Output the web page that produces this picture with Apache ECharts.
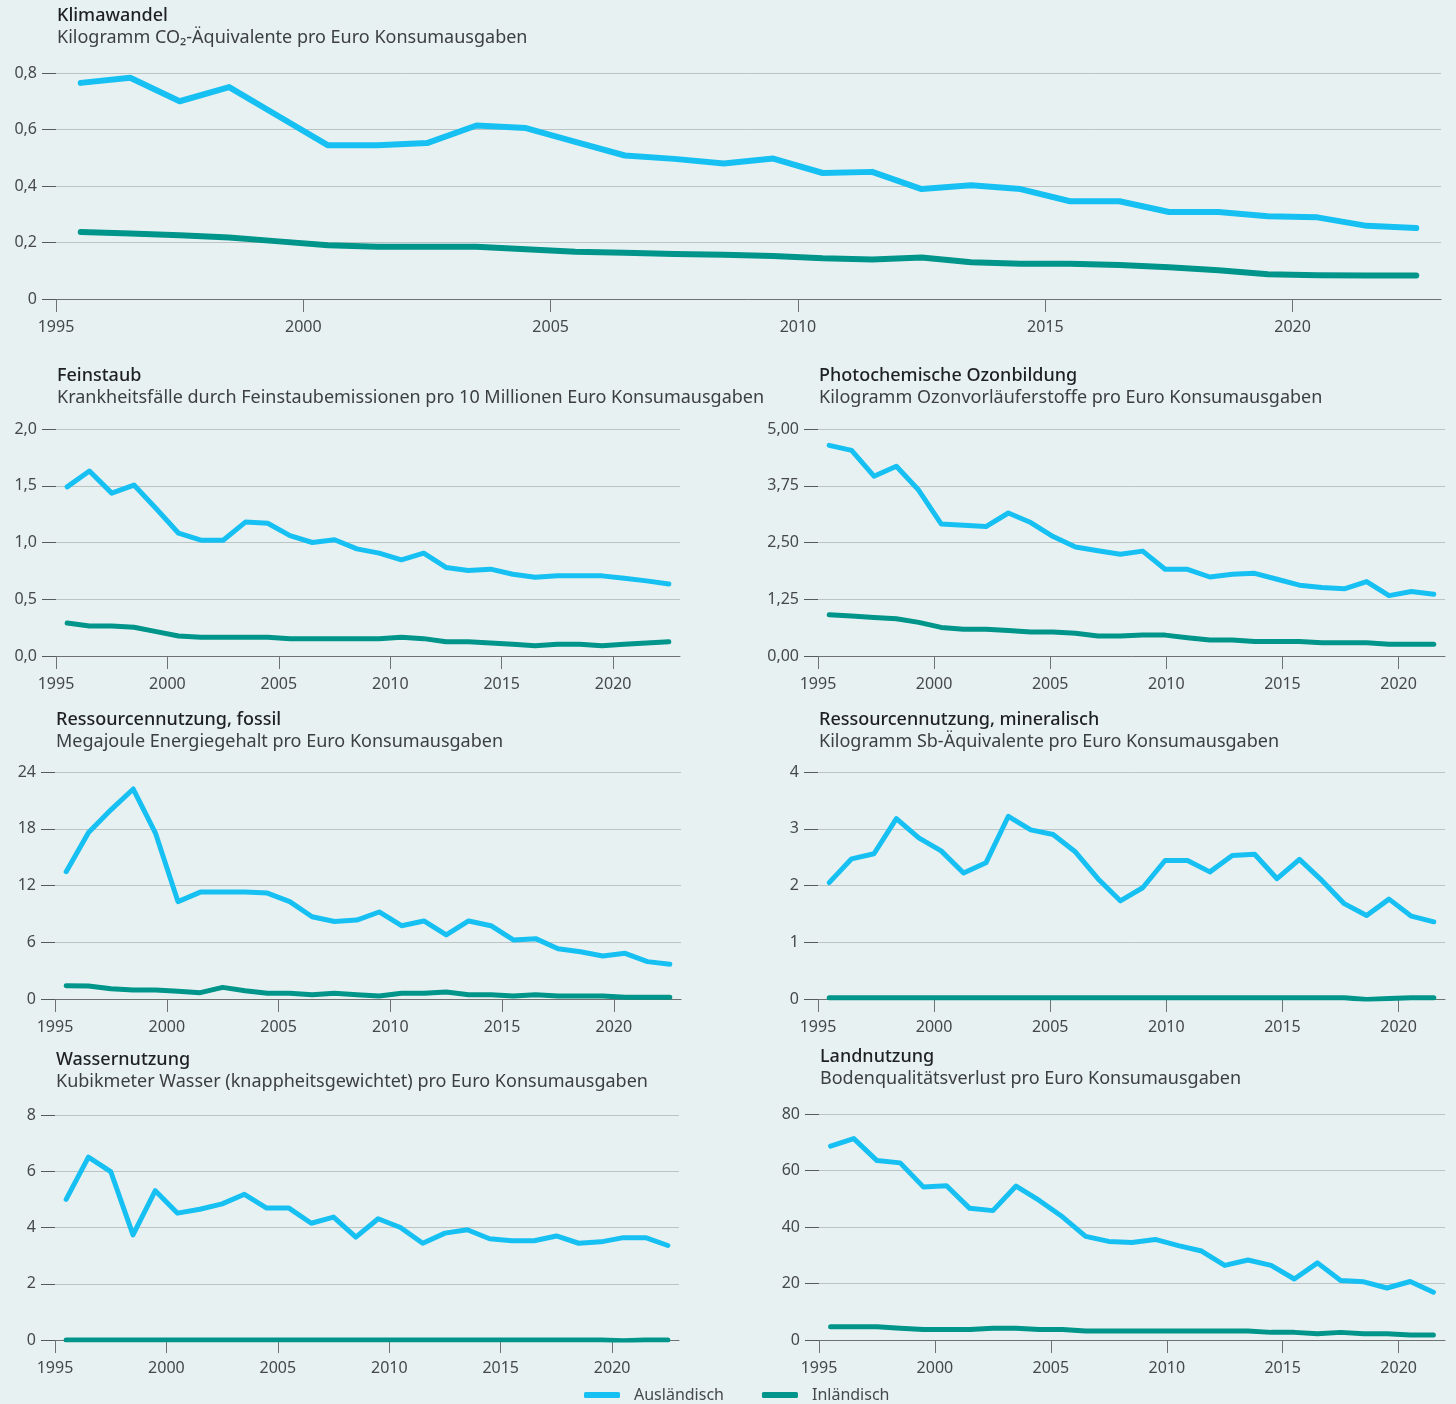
<!DOCTYPE html>
<html>
<head>
<meta charset="utf-8">
<script src="https://cdn.jsdelivr.net/npm/echarts@6/dist/echarts.min.js"></script>
<style>
  html, body { margin: 0; padding: 0; background: #e8f1f1; }
  #chart { width: 1456px; height: 1404px; }
</style>
</head>
<body>
<div id="chart"></div>
<script>
// Jahre (Datenpunkte)
var years = [1995, 1996, 1997, 1998, 1999, 2000, 2001, 2002, 2003, 2004, 2005, 2006, 2007, 2008,
  2009, 2010, 2011, 2012, 2013, 2014, 2015, 2016, 2017, 2018, 2019, 2020, 2021, 2022]
var landYears = [1995, 1996, 1997, 1998, 1999, 2000, 2001, 2002, 2003, 2004, 2005, 2006, 2007, 2008,
  2009, 2010, 2011, 2012, 2013, 2014, 2015, 2016, 2017, 2018, 2019, 2020, 2021]
var xTickValues = [1995, 2000, 2005, 2010, 2015, 2020]

// Klimawandel
var klimaAusl = [0.765, 0.783, 0.70, 0.75, 0.647, 0.544, 0.544, 0.552, 0.614, 0.605, 0.556, 0.508, 0.496, 0.48,
  0.497, 0.446, 0.45, 0.389, 0.403, 0.389, 0.346, 0.346, 0.308, 0.308, 0.293, 0.289, 0.259, 0.251]
var klimaInl = [0.237, 0.232, 0.226, 0.218, 0.204, 0.19, 0.185, 0.185, 0.185, 0.176, 0.167, 0.164, 0.159, 0.157,
  0.152, 0.144, 0.14, 0.147, 0.13, 0.125, 0.125, 0.12, 0.112, 0.102, 0.088, 0.084, 0.083, 0.083]
var klimaYLabels = ['0', '0,2', '0,4', '0,6', '0,8']

// Feinstaub
var feinAusl = [1.49, 1.63, 1.435, 1.506, 1.297, 1.082, 1.02, 1.02, 1.18, 1.17, 1.06, 1.0, 1.024, 0.944,
  0.906, 0.847, 0.906, 0.78, 0.753, 0.765, 0.72, 0.694, 0.706, 0.706, 0.706, 0.685, 0.662, 0.635]
var feinInl = [0.29, 0.265, 0.265, 0.253, 0.215, 0.176, 0.165, 0.165, 0.165, 0.165, 0.153, 0.153, 0.153, 0.153,
  0.153, 0.165, 0.153, 0.126, 0.126, 0.115, 0.103, 0.091, 0.103, 0.103, 0.091, 0.103, 0.115, 0.126]
var feinYLabels = ['0,0', '0,5', '1,0', '1,5', '2,0']

// Photochemische Ozonbildung
var ozonAusl = [4.64, 4.53, 3.96, 4.18, 3.65, 2.91, 2.88, 2.85, 3.15, 2.94, 2.63, 2.40, 2.32, 2.24,
  2.31, 1.91, 1.91, 1.74, 1.80, 1.82, 1.69, 1.56, 1.51, 1.48, 1.64, 1.33, 1.42, 1.36]
var ozonInl = [0.91, 0.88, 0.85, 0.82, 0.74, 0.63, 0.59, 0.59, 0.56, 0.53, 0.53, 0.50, 0.44, 0.44,
  0.46, 0.46, 0.40, 0.35, 0.35, 0.32, 0.32, 0.32, 0.29, 0.29, 0.29, 0.26, 0.26, 0.26]
var ozonYLabels = ['0,00', '1,25', '2,50', '3,75', '5,00']

// Ressourcennutzung, fossil
var fossilAusl = [13.46, 17.6, 20.0, 22.2, 17.5, 10.3, 11.3, 11.3, 11.3, 11.2, 10.3, 8.7, 8.2, 8.35,
  9.2, 7.75, 8.25, 6.77, 8.25, 7.75, 6.24, 6.38, 5.32, 5.0, 4.55, 4.83, 3.95, 3.67]
var fossilInl = [1.41, 1.37, 1.09, 0.95, 0.95, 0.81, 0.67, 1.23, 0.88, 0.6, 0.6, 0.46, 0.6, 0.46,
  0.32, 0.6, 0.6, 0.74, 0.46, 0.46, 0.32, 0.46, 0.32, 0.32, 0.32, 0.18, 0.18, 0.18]
var fossilYLabels = ['0', '6', '12', '18', '24']

// Ressourcennutzung, mineralisch
var mineralAusl = [2.05, 2.47, 2.56, 3.18, 2.84, 2.61, 2.22, 2.40, 3.22, 2.98, 2.90, 2.59, 2.12, 1.73,
  1.96, 2.44, 2.44, 2.24, 2.53, 2.55, 2.12, 2.46, 2.09, 1.68, 1.47, 1.76, 1.46, 1.36]
var mineralInl = [0.02, 0.02, 0.02, 0.02, 0.02, 0.02, 0.02, 0.02, 0.02, 0.02, 0.02, 0.02, 0.02, 0.02,
  0.02, 0.02, 0.02, 0.02, 0.02, 0.02, 0.02, 0.02, 0.02, 0.02, -0.01, 0.01, 0.02, 0.02]
var mineralYLabels = ['0', '1', '2', '3', '4']

// Wassernutzung
var wasserAusl = [5.0, 6.5, 5.99, 3.74, 5.31, 4.51, 4.65, 4.84, 5.18, 4.69, 4.69, 4.15, 4.37, 3.66,
  4.31, 4.0, 3.44, 3.8, 3.92, 3.6, 3.53, 3.53, 3.7, 3.44, 3.49, 3.64, 3.64, 3.36]
var wasserInl = [0, 0, 0, 0, 0, 0, 0, 0, 0, 0, 0, 0, 0, 0,
  0, 0, 0, 0, 0, 0, 0, 0, 0, 0, 0, -0.03, 0, 0]
var wasserYLabels = ['0', '2', '4', '6', '8']

// Landnutzung
var landAusl = [68.6, 71.3, 63.5, 62.7, 54.2, 54.6, 46.6, 45.8, 54.5, 49.4, 43.6, 36.7, 34.9, 34.5,
  35.6, 33.4, 31.5, 26.4, 28.3, 26.4, 21.6, 27.3, 21.1, 20.6, 18.4, 20.7, 16.9]
var landInl = [4.7, 4.7, 4.7, 4.2, 3.7, 3.7, 3.7, 4.2, 4.2, 3.7, 3.7, 3.2, 3.2, 3.2,
  3.2, 3.2, 3.2, 3.2, 3.2, 2.7, 2.7, 2.2, 2.7, 2.2, 2.2, 1.8, 1.8]
var landYLabels = ['0', '20', '40', '60', '80']

var AUSL = '#17c0f2'
var INL = '#00958a'
var FONT = 'Noto Sans'
var GRID_COLOR = '#bcc3c5'
var AXIS_COLOR = '#6e7273'
var LABEL_COLOR = '#45494a'

var grids = [], xAxes = [], yAxes = [], series = [], titles = []

function addPanel(p) {
  var gi = grids.length
  grids.push({ left: p.left, top: p.top, width: p.width, height: p.height })

  // versteckte Kategorieachse fuer die Punkte
  xAxes.push({
    type: 'category', gridIndex: gi, data: p.years, boundaryGap: true, show: false
  })
  // sichtbare Jahresachse
  xAxes.push({
    type: 'value', gridIndex: gi, min: 1995, max: p.xMax, position: 'bottom',
    axisLine: { show: true, lineStyle: { color: AXIS_COLOR, width: 1 } },
    axisTick: { show: true, length: 13, customValues: xTickValues, lineStyle: { color: AXIS_COLOR } },
    axisLabel: {
      customValues: xTickValues, margin: 20, fontFamily: FONT, fontSize: 16, color: LABEL_COLOR,
      formatter: function (v) { return String(v) }
    },
    splitLine: { show: false }
  })
  yAxes.push({
    type: 'value', gridIndex: gi, min: 0, max: p.yMax, interval: p.yMax / 4,
    axisLine: { show: false },
    axisTick: { show: true, length: 14, lineStyle: { color: '#555a5b' } },
    axisLabel: {
      margin: 19, fontFamily: FONT, fontSize: 16, color: LABEL_COLOR,
      formatter: function (v) { return p.yLabels[Math.round(v / (p.yMax / 4))] }
    },
    splitLine: { show: true, lineStyle: { color: GRID_COLOR, width: 1 } }
  })

  series.push({
    name: 'Ausländisch', type: 'line', xAxisIndex: 2 * gi, yAxisIndex: gi,
    data: p.ausl, symbol: 'none', silent: true,
    lineStyle: { width: p.lw, color: AUSL, cap: 'round', join: 'round' },
    itemStyle: { color: AUSL }
  })
  series.push({
    name: 'Inländisch', type: 'line', xAxisIndex: 2 * gi, yAxisIndex: gi,
    data: p.inl, symbol: 'none', silent: true,
    lineStyle: { width: p.lw, color: INL, cap: 'round', join: 'round' },
    itemStyle: { color: INL }
  })

  titles.push({
    left: p.left + 1, top: p.titleTop, padding: 0, itemGap: 1,
    text: p.title, subtext: p.sub,
    textStyle: { fontFamily: FONT, fontSize: 18, fontWeight: 500, color: '#1e2021', lineHeight: 21 },
    subtextStyle: { fontFamily: FONT, fontSize: 18, color: '#3d4041', lineHeight: 21 }
  })
}

addPanel({ title: 'Klimawandel', sub: 'Kilogramm CO\u2082-Äquivalente pro Euro Konsumausgaben',
  left: 56, top: 73, width: 1385, height: 226, titleTop: 5, xMax: 2023, years: years,
  ausl: klimaAusl, inl: klimaInl, yMax: 0.8, yLabels: klimaYLabels, lw: 6 })

addPanel({ title: 'Feinstaub', sub: 'Krankheitsfälle durch Feinstaubemissionen pro 10 Millionen Euro Konsumausgaben',
  left: 56, top: 429, width: 624, height: 227, titleTop: 365, xMax: 2023, years: years,
  ausl: feinAusl, inl: feinInl, yMax: 2.0, yLabels: feinYLabels, lw: 5 })

addPanel({ title: 'Photochemische Ozonbildung', sub: 'Kilogramm Ozonvorläuferstoffe pro Euro Konsumausgaben',
  left: 818, top: 429, width: 627, height: 227, titleTop: 365, xMax: 2022, years: years,
  ausl: ozonAusl, inl: ozonInl, yMax: 5, yLabels: ozonYLabels, lw: 5 })

addPanel({ title: 'Ressourcennutzung, fossil', sub: 'Megajoule Energiegehalt pro Euro Konsumausgaben',
  left: 55, top: 772, width: 626, height: 227, titleTop: 709, xMax: 2023, years: years,
  ausl: fossilAusl, inl: fossilInl, yMax: 24, yLabels: fossilYLabels, lw: 5 })

addPanel({ title: 'Ressourcennutzung, mineralisch', sub: 'Kilogramm Sb-Äquivalente pro Euro Konsumausgaben',
  left: 818, top: 772, width: 627, height: 227, titleTop: 709, xMax: 2022, years: years,
  ausl: mineralAusl, inl: mineralInl, yMax: 4, yLabels: mineralYLabels, lw: 5 })

addPanel({ title: 'Wassernutzung', sub: 'Kubikmeter Wasser (knappheitsgewichtet) pro Euro Konsumausgaben',
  left: 55, top: 1115, width: 624, height: 225, titleTop: 1049, xMax: 2023, years: years,
  ausl: wasserAusl, inl: wasserInl, yMax: 8, yLabels: wasserYLabels, lw: 5 })

addPanel({ title: 'Landnutzung', sub: 'Bodenqualitätsverlust pro Euro Konsumausgaben',
  left: 819, top: 1114, width: 626, height: 226, titleTop: 1046, xMax: 2022, years: landYears,
  ausl: landAusl, inl: landInl, yMax: 80, yLabels: landYLabels, lw: 5 })

var myChart = echarts.init(document.getElementById('chart'))
myChart.setOption({
  backgroundColor: '#e8f1f1',
  animation: false,
  title: titles,
  grid: grids,
  xAxis: xAxes,
  yAxis: yAxes,
  series: series,
  legend: {
    data: [{ name: 'Ausländisch' }, { name: 'Inländisch' }],
    left: 579, top: 1382, itemWidth: 36, itemHeight: 6, icon: 'roundRect', itemGap: 38,
    selectedMode: false,
    textStyle: { fontFamily: FONT, fontSize: 16, color: LABEL_COLOR, padding: [0, 0, 0, 9] }
  }
})
</script>
</body>
</html>
